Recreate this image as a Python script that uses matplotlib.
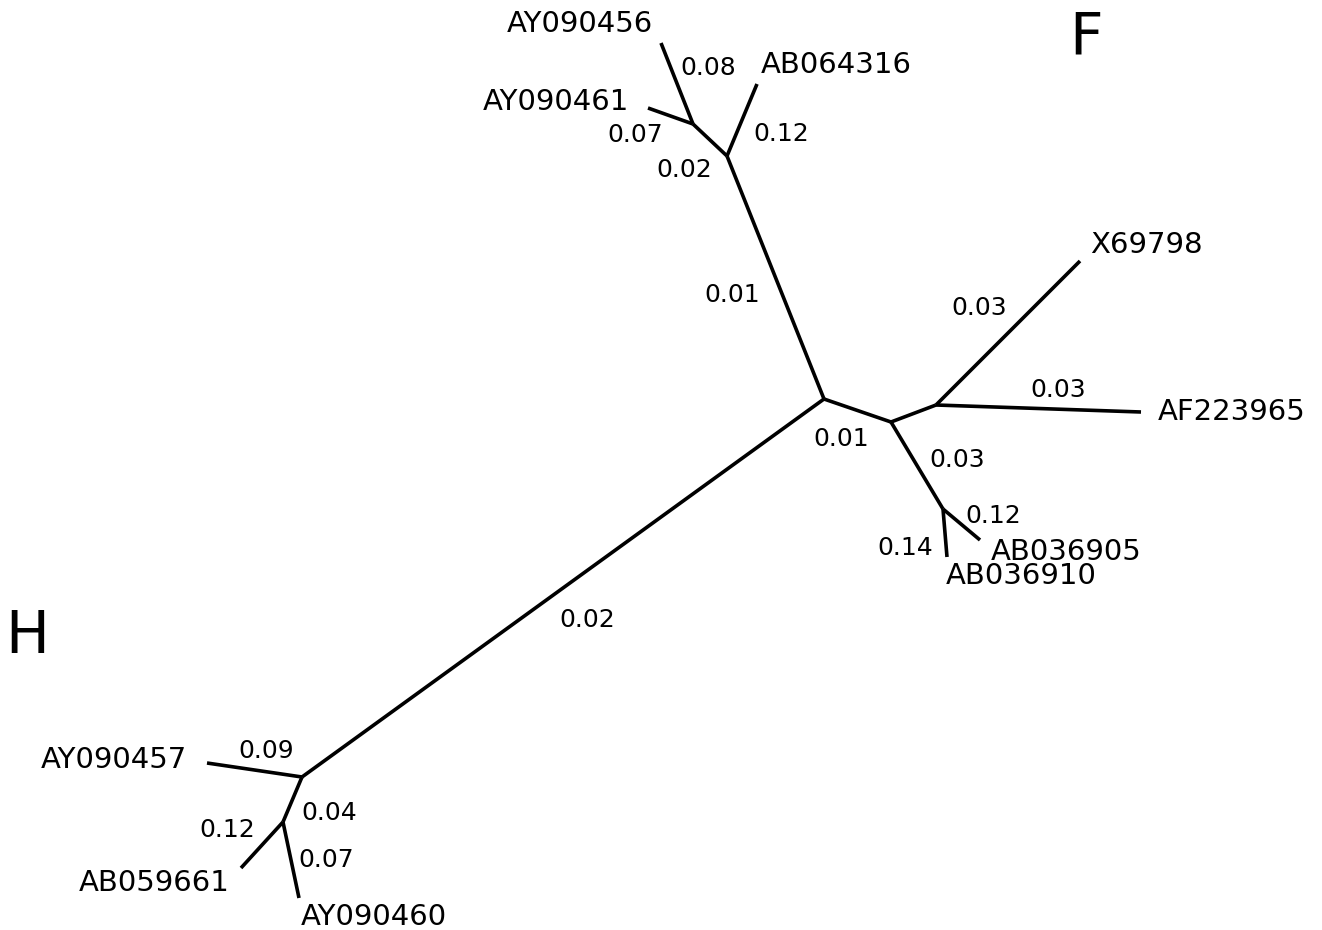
import matplotlib
matplotlib.use("Agg")
import matplotlib.pyplot as plt

plt.rcParams['font.family'] = ['DejaVu Sans']

# Tree topology: nodes (internal + leaves) and branches with their lengths
node_names = ["C", "B", "A", "D", "E", "G", "H1", "H2",
              "AY090456", "AY090461", "AB064316",
              "X69798", "AF223965", "AB036905", "AB036910",
              "AY090457", "AB059661", "AY090460"]

edge_parent = ["C", "B", "A", "A", "B",
               "C", "D", "E", "E", "D", "G", "G",
               "C", "H1", "H1", "H2", "H2"]
edge_child = ["B", "A", "AY090456", "AY090461", "AB064316",
              "D", "E", "X69798", "AF223965", "G", "AB036905", "AB036910",
              "H1", "AY090457", "H2", "AB059661", "AY090460"]
edge_length = [0.01, 0.02, 0.08, 0.07, 0.12,
               0.01, None, 0.03, 0.03, 0.03, 0.12, 0.14,
               0.02, 0.09, 0.04, 0.12, 0.07]

group_names = ["H", "F"]

# Layout of the unrooted tree (drawing units, y downward)
node_x = [824, 727, 693, 891, 936, 943, 302, 283,
          661, 648, 757,
          1080, 1141, 980, 947,
          207, 241, 299]
node_y = [399, 156, 124, 422, 405, 509, 777, 822,
          43, 108, 84,
          261, 412, 540, 557,
          763, 868, 898]

leaf_label_x = {"AY090456": 580, "AY090461": 556, "AB064316": 836,
                "X69798": 1146, "AF223965": 1232, "AB036905": 1066,
                "AB036910": 1021, "AY090457": 114, "AB059661": 154,
                "AY090460": 374}
leaf_label_y = {"AY090456": 32, "AY090461": 110, "AB064316": 73,
                "X69798": 253, "AF223965": 420, "AB036905": 560,
                "AB036910": 584, "AY090457": 768, "AB059661": 891,
                "AY090460": 925}

edge_label_x = [732, 684, 708, 635, 781,
                841, None, 979, 1058, 957, 993, 905,
                587, 266, 329, 227, 326]
edge_label_y = [302, 177, 75, 142, 141,
                446, None, 315, 397, 467, 523, 555,
                627, 758, 820, 837, 867]

group_x = [27, 1086]
group_y = [653, 55]

W, H = 1322, 930
fig = plt.figure(figsize=(W / 100, H / 100), dpi=100)
ax = fig.add_axes([0, 0, 1, 1])
ax.set_xlim(0, W)
ax.set_ylim(H, 0)
ax.axis("off")

pos = {n: (x, y) for n, x, y in zip(node_names, node_x, node_y)}

for p, c in zip(edge_parent, edge_child):
    (x0, y0), (x1, y1) = pos[p], pos[c]
    ax.plot([x0, x1], [y0, y1], color="black", lw=2.6,
            solid_capstyle="butt", solid_joinstyle="miter")

for length, lx, ly in zip(edge_length, edge_label_x, edge_label_y):
    if length is None:
        continue
    ax.text(lx, ly, f"{length:.2f}", fontsize=18, ha="center",
            va="baseline", color="black")

for name in leaf_label_x:
    ax.text(leaf_label_x[name], leaf_label_y[name], name, fontsize=21,
            ha="center", va="baseline", color="black")

for g, gx, gy in zip(group_names, group_x, group_y):
    ax.text(gx, gy, g, fontsize=42, ha="center", va="baseline",
            color="black")

fig.savefig("out.png", dpi=100, facecolor="white")
